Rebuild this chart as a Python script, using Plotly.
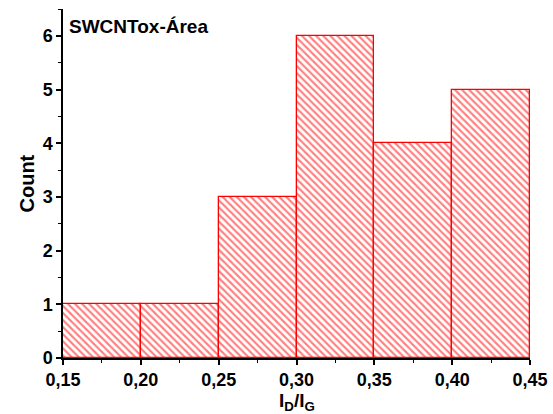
import plotly.graph_objects as go

bin_starts = [0.15, 0.20, 0.25, 0.30, 0.35, 0.40]
bin_width = 0.05
counts = [1, 1, 3, 6, 4, 5]
title_text = "SWCNTox-Área"
x_label = "I<sub>D</sub>/I<sub>G</sub>"
y_label = "Count"

centers = [s + bin_width / 2 for s in bin_starts]

fig = go.Figure()
fig.add_trace(go.Bar(
    x=centers, y=counts, width=[bin_width] * len(counts),
    marker=dict(color="red", line=dict(color="red", width=1.3),
                pattern=dict(shape="\\", size=5, solidity=0.42, bgcolor="white", fgcolor="red")),
    showlegend=False,
))

FAM = "Liberation Sans, Arial, sans-serif"
font = dict(family=FAM, size=18, color="black")
axis_common = dict(showline=True, linecolor="black", linewidth=1.5, showgrid=False, zeroline=False,
                   ticks="outside", ticklen=5, tickwidth=1.5, tickcolor="black",
                   tickprefix="<b>", ticksuffix="</b>", automargin=False,
                   tickfont=dict(size=18, family=FAM, color="black"))

fig.update_layout(
    width=553, height=414,
    margin=dict(l=63, r=23, t=9, b=56),
    plot_bgcolor="white", paper_bgcolor="white",
    separators=",.",
    font=font,
    bargap=0,
    xaxis=dict(range=[0.15, 0.45], tick0=0.15, dtick=0.05, tickformat=".2f",
               minor=dict(ticks="outside", ticklen=3, dtick=0.025, tickcolor="black", tickwidth=1.2),
               **axis_common),
    yaxis=dict(range=[0, 6.5], tick0=0, dtick=1,
               minor=dict(ticks="outside", ticklen=3, dtick=0.5, tickcolor="black", tickwidth=1.2),
               **axis_common),
    xaxis2=dict(overlaying="x", side="top", range=[0.15, 0.45], tick0=0.15, dtick=0.05,
                showticklabels=False, showline=True, linecolor="black", linewidth=1.5,
                ticks="inside", ticklen=4, tickcolor="black", showgrid=False, zeroline=False,
                minor=dict(ticks="inside", ticklen=2, dtick=0.025, tickcolor="black")),
    yaxis2=dict(overlaying="y", side="right", range=[0, 6.5], tick0=0, dtick=1,
                showticklabels=False, showline=True, linecolor="black", linewidth=1.5,
                ticks="inside", ticklen=4, tickcolor="black", showgrid=False, zeroline=False,
                minor=dict(ticks="inside", ticklen=2, dtick=0.5, tickcolor="black")),
)

fig.add_annotation(text="<b>" + title_text + "</b>", xref="paper", yref="paper", x=0.0, y=1.0,
                   xanchor="left", yanchor="top", xshift=4, yshift=-5, showarrow=False,
                   font=dict(size=19, color="black", family=FAM))
fig.add_annotation(text="<b>" + x_label + "</b>", xref="paper", yref="paper", x=0.5, y=0,
                   xanchor="center", yanchor="top", yshift=-31, showarrow=False, borderpad=0,
                   font=dict(size=19, color="black", family=FAM))
fig.add_annotation(text="<b>" + y_label + "</b>", xref="paper", yref="paper", x=0, y=0.5,
                   xanchor="right", yanchor="middle", xshift=-24, textangle=-90, showarrow=False,
                   font=dict(size=20, color="black", family=FAM))

fig.write_html("out.html")
